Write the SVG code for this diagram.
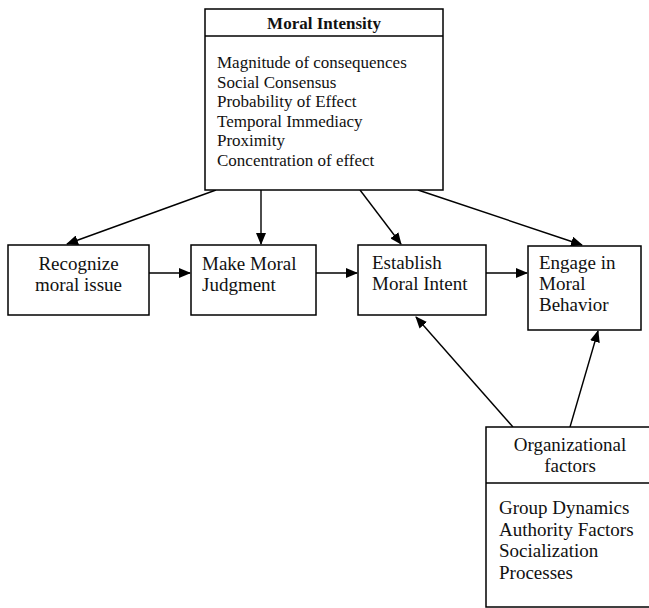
<svg xmlns="http://www.w3.org/2000/svg" width="649" height="608" viewBox="0 0 649 608">
<defs>
<style>
.box{fill:#fff;stroke:#000;stroke-width:1.5}
.t{font-family:"Liberation Serif","Times New Roman",serif;fill:#111}
.s17{font-size:17px}
.s19{font-size:19px}
.b{font-weight:bold}
.c{text-anchor:middle}
.ln{stroke:#000;stroke-width:1.4;fill:none;marker-end:url(#ah)}
</style>
<marker id="ah" markerUnits="userSpaceOnUse" markerWidth="12" markerHeight="10" viewBox="0 0 12 10" refX="11" refY="5" orient="auto">
<path d="M0,0 L12,5 L0,10 Z" fill="#000"/>
</marker>
</defs>
<rect width="649" height="608" fill="#fff"/>
<g id="connectors">
<line class="ln" x1="216" y1="190" x2="67" y2="244"/>
<line class="ln" x1="261" y1="190" x2="261" y2="244"/>
<line class="ln" x1="360" y1="190" x2="401" y2="244"/>
<line class="ln" x1="418" y1="190" x2="582" y2="245"/>
<line class="ln" x1="149" y1="273" x2="190" y2="273"/>
<line class="ln" x1="316" y1="273" x2="357" y2="273"/>
<line class="ln" x1="486" y1="273" x2="527" y2="273"/>
<line class="ln" x1="513" y1="427" x2="416" y2="317"/>
<line class="ln" x1="570" y1="427" x2="598" y2="331"/>
</g>
<g id="moral-intensity">
<rect class="box" x="205" y="9" width="238" height="181"/>
<line x1="205" y1="36" x2="443" y2="36" stroke="#000" stroke-width="1.5"/>
<text class="t s17 b c" x="324" y="29">Moral Intensity</text>
<text class="t s17" x="217" y="68">Magnitude of consequences</text>
<text class="t s17" x="217" y="87.5">Social Consensus</text>
<text class="t s17" x="217" y="107">Probability of Effect</text>
<text class="t s17" x="217" y="126.5">Temporal Immediacy</text>
<text class="t s17" x="217" y="146">Proximity</text>
<text class="t s17" x="217" y="165.5">Concentration of effect</text>
</g>
<g id="recognize">
<rect class="box" x="8" y="245" width="141" height="70"/>
<text class="t s19 c" x="78.5" y="270">Recognize</text>
<text class="t s19 c" x="78.5" y="291">moral issue</text>
</g>
<g id="judgment">
<rect class="box" x="191" y="245" width="125" height="70"/>
<text class="t s19" x="202" y="270">Make Moral</text>
<text class="t s19" x="202" y="291">Judgment</text>
</g>
<g id="intent">
<rect class="box" x="358" y="245" width="128" height="70"/>
<text class="t s19" x="372" y="269">Establish</text>
<text class="t s19" x="372" y="290">Moral Intent</text>
</g>
<g id="behavior">
<rect class="box" x="528" y="246" width="113" height="84"/>
<text class="t s19" x="539" y="269">Engage in</text>
<text class="t s19" x="539" y="290">Moral</text>
<text class="t s19" x="539" y="311">Behavior</text>
</g>
<g id="organizational">
<rect class="box" x="486" y="427" width="170" height="180"/>
<line x1="486" y1="483" x2="656" y2="483" stroke="#000" stroke-width="1.5"/>
<text class="t s19 c" x="570" y="451">Organizational</text>
<text class="t s19 c" x="570" y="472">factors</text>
<text class="t s19" x="499" y="514">Group Dynamics</text>
<text class="t s19" x="499" y="536">Authority Factors</text>
<text class="t s19" x="499" y="557">Socialization</text>
<text class="t s19" x="499" y="579">Processes</text>
</g>
</svg>
